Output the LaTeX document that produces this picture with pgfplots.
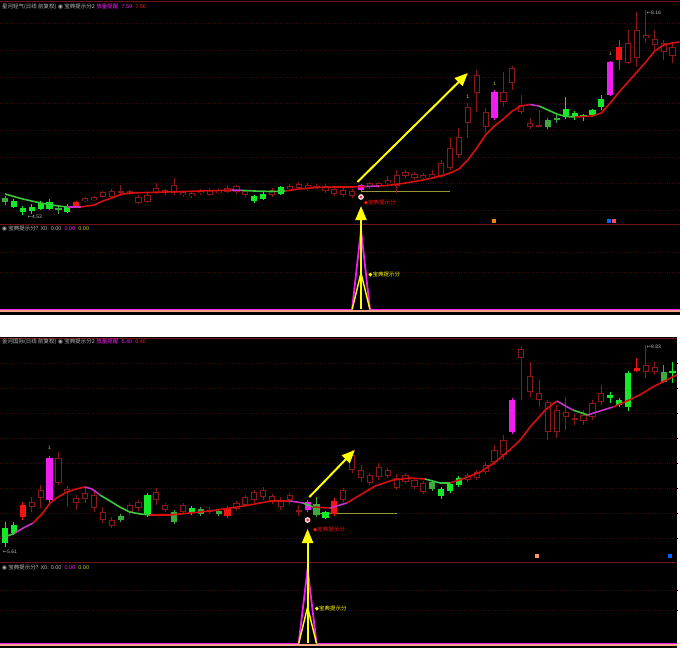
\documentclass[border=0pt]{standalone}
\usepackage{pgfplots}
\pgfplotsset{compat=1.18}
\usepackage{pgfplotstable}
\usetikzlibrary{arrows.meta}
\usepackage{fontspec}
\setmainfont{Liberation Sans}
\newfontfamily\cjk{Noto Sans CJK SC}
\newfontfamily\sym{DejaVu Sans}

\definecolor{gbright}{RGB}{20,235,40}
\definecolor{gdim}{RGB}{60,170,60}
\definecolor{cred}{RGB}{245,20,20}
\definecolor{cmag}{RGB}{240,30,240}
\definecolor{hred}{RGB}{140,24,24}
\definecolor{mared}{RGB}{215,15,15}
\definecolor{magreen}{RGB}{60,200,60}
\definecolor{mamag}{RGB}{200,50,200}
\definecolor{oliveln}{RGB}{150,150,50}
\definecolor{salmon}{RGB}{245,165,135}
\definecolor{sepred}{RGB}{110,20,20}
\definecolor{gridred}{RGB}{52,12,12}
\definecolor{ttl}{RGB}{185,185,185}
\definecolor{ylw}{RGB}{255,255,0}
\definecolor{tyg}{RGB}{200,200,60}

% ---------- top chart ----------
\pgfplotstableread{
i t b wt wb
1 201 207 199 208
2 208 212 206 215
3 207 211 204 214
4 203 209 201 210
5 202 209 199 210
7 206 212 204 213
28 196 201 195 203
29 194 199 192 200
31 187 194 186 195
63 109 117 97 119
64 113 117 111 120
65 115 117 114 121
66 110 115 109 117
67 99 107 95 110
}\TopG
\pgfplotstableread{
i t b wt wb
0 198 202 196 205
6 208 210 205 214
61 120 127 118 129
62 118 120 115 123
}\Topg
\pgfplotstableread{
i t b wt wb
8 202 207 201 208
69 47 60 40 70
}\TopR
\pgfplotstableread{
i t b wt wb
40 185 190 184 191
55 92 118 90 120
68 62 95 61 96
}\TopM
\pgfplotstableread{
i t b wt wb
13 191 192.5 185 196
35 186 187.5 184 189
60 125 126.5 110 127
}\TopD
\pgfplotstableread{
i t b wt wb
9 198 201 197 202
10 197 200 196 201
11 192 197 191 198
12 191 197 189 199
14 191 194 190 195
15 197 203 195 204
16 195 202 193 203
17 188 193 183 194
18 190 193 189 195
19 185 193 178 195
20 192 195 191 197
21 193 196 192 198
22 190 193 189 195
23 190 195 188 196
24 190 193 189 194
25 188 192 185 193
26 186 192 185 194
27 191 195 190 197
30 190 195 188 197
32 186 189 184 191
33 184 188 182 190
34 185 189 183 191
36 186 191 184 193
37 189 194 187 196
38 190 195 188 197
39 191 196 189 198
41 183 187 182 189
42 183 186 182 188
43 180 183 176 185
44 175 186 170 193
45 172 176 170 178
46 174 178 172 180
47 175 178 173 180
48 174 177 170 179
49 163 176 160 178
50 148 168 138 170
51 137 155 128 158
52 107 123 103 138
53 75 93 70 112
54 112 127 108 133
56 92 102 72 107
57 68 83 66 90
58 105 112 95 114
59 123 127 118 129
70 43 63 30 64
71 30 58 12 67
72 35 38 10 43
73 39 45 30 50
74 43 52 40 60
75 47 56 44 63
}\TopH

% ---------- bottom chart ----------
\pgfplotstableread{
i t b wt wb
0 528 543 522 547
1 525 533 522 535
16 495 515 493 517
21 508 513 506 515
36 512 518 511 519
49 489 496 487 499
50 484 491 482 493
51 478 485 476 487
68 395 398 392 403
69 400 405 398 407
70 373 407 371 411
75 371 373 362 383
}\BotG
\pgfplotstableread{
i t b wt wb
13 516 520 514 522
19 512 522 510 524
22 509 514 507 516
24 511 514 509 516
35 504 515 497 517
48 482 489 480 491
74 372 382 365 383
}\Botg
\pgfplotstableread{
i t b wt wb
2 505 517 502 520
25 508 516 506 518
37 501 514 498 516
71 368 370.5 358 372
}\BotR
\pgfplotstableread{
i t b wt wb
5 458 500 456 502
34 502 510 500 512
57 400 432 398 434
}\BotM
\pgfplotstableread{
i t b wt wb
23 510 511.5 507 514
33 510 511.5 505 516
64 418 419.5 414 425
}\BotD
\pgfplotstableread{
i t b wt wb
3 502 507 497 512
4 490 498 485 508
6 458 483 452 485
7 489 492 486 507
8 498 503 495 510
9 493 499 487 503
10 495 508 490 512
11 512 520 507 523
12 520 526 517 528
14 505 512 503 515
15 502 508 500 511
17 492 500 488 505
18 505 510 503 512
20 505 512 503 514
26 503 509 501 511
27 497 505 495 507
28 492 500 490 503
29 490 497 487 500
30 496 502 494 504
31 500 507 497 510
32 495 500 493 505
38 490 500 488 502
39 455 470 450 473
40 470 478 465 482
41 475 483 473 485
42 467 477 463 480
43 470 476 468 478
44 478 488 474 490
45 475 482 473 484
46 480 487 478 489
47 483 492 481 494
52 475 480 473 482
53 472 478 470 480
54 465 472 462 474
55 450 462 445 465
56 440 455 435 460
58 349 358 346 400
59 376 392 362 397
60 393 400 380 407
61 402 432 400 440
62 410 432 405 438
63 412 417 397 430
65 415 421 410 425
66 403 417 400 420
67 393 402 385 405
72 365 372 345 378
73 367 372 362 375
}\BotH

\pgfplotsset{
  panel/.style={scale only axis, width=680bp, xmin=-0.5618, xmax=75.8427,
    y dir=reverse, clip=false, axis line style={draw=none}, xtick=\empty,
    yticklabels={}, major tick length=0pt, ymajorgrids,
    grid style={dotted, gridred, line width=0.5bp}},
  botpanel/.style={panel, width=677bp, xmax=75.5056},
  wick/.style={only marks, mark=*, mark size=0pt, mark options={draw=none, fill=none},
    error bars/.cd, y dir=both, y explicit,
    error mark=none, error bar style={line width=1bp, draw=#1, solid}},
  body/.style 2 args={only marks, mark=*, mark size=0pt, mark options={draw=none, fill=none},
    error bars/.cd, y dir=both, y explicit,
    error mark=none, error bar style={line width=#2, draw=#1, solid}},
}
\newcommand\wicks[2]{\addplot[wick=#2] table[x=i, y expr={(\thisrow{wt}+\thisrow{wb})/2}, y error expr={(\thisrow{wb}-\thisrow{wt})/2}] {#1};}
\newcommand\bodies[2]{\addplot[body={#2}{6.2bp}] table[x=i, y expr={(\thisrow{t}+\thisrow{b})/2}, y error expr={(\thisrow{b}-\thisrow{t})/2}] {#1};}
\newcommand\inner[1]{\addplot[body={black}{4.2bp}] table[x=i, y expr={(\thisrow{t}+\thisrow{b})/2}, y error expr={(\thisrow{b}-\thisrow{t})/2-1.1}] {#1};}
\newcommand\allcandles[6]{%
  \wicks{#5}{hred}\wicks{#6}{hred}\wicks{#1}{gbright}\wicks{#2}{gdim}\wicks{#3}{cred}\wicks{#4}{cmag}%
  \bodies{#5}{hred}\inner{#5}\bodies{#6}{hred}%
  \bodies{#1}{gbright}\bodies{#2}{gdim}\bodies{#3}{cred}\bodies{#4}{cmag}}

\begin{document}
\begin{tikzpicture}
\fill[white] (0,0) rectangle (684bp,-649bp);
\fill[black] (0,0) rectangle (680bp,-315bp);
\fill[black] (0,-337bp) rectangle (677bp,-648bp);
\draw[sepred, line width=0.8bp] (0,-1.5bp) -- (680bp,-1.5bp);
\draw[sepred, line width=0.8bp] (0,-338bp) -- (677bp,-338bp);

% ================= TOP MAIN =================
\begin{axis}[panel, at={(0bp,0bp)}, anchor=north west, height=224bp, ymin=0, ymax=224,
  ytick={23,50,77,103,130,157,183,210}]
\addplot[oliveln, line width=1bp] coordinates {(40,191) (50,191)};
\allcandles{\TopG}{\Topg}{\TopR}{\TopM}{\TopH}{\TopD}
% moving average
\addplot[magreen, line width=1.6bp] coordinates {(0,194) (2,199) (4,203) (6,206) (7,207)};
\addplot[mamag, line width=1.6bp] coordinates {(7,207) (8.5,207)};
\addplot[mared, line width=1.6bp] coordinates {(8.5,207) (10,205) (11,201) (12,198) (13,194.5) (14,193) (16,192.5) (18,192) (20,191.5) (22,191) (24,190.5) (25.5,190)};
\addplot[mamag, line width=1.6bp] coordinates {(25.5,190) (26.5,190.3)};
\addplot[magreen, line width=1.6bp] coordinates {(26.5,190.3) (28,191) (30,191.5) (31.5,191)};
\addplot[mared, line width=1.6bp] coordinates {(31.5,191) (33,189) (35,187.5) (37,187) (39,187) (40.5,186.5)};
\addplot[mamag, line width=1.6bp] coordinates {(40.5,186.5) (42,186)};
\addplot[mared, line width=1.6bp] coordinates {(42,186) (43,185.5) (45,183) (47,180) (48,178) (49,176) (50,173) (51,169) (52,160) (53,148) (54,135) (55,126) (56,119) (57,111) (58,106) (59,104.5)};
\addplot[mamag, line width=1.6bp] coordinates {(59,104.5) (60,106)};
\addplot[magreen, line width=1.6bp] coordinates {(60,106) (61,110) (62,114) (63,116.5) (64,117)};
\addplot[mared, line width=1.6bp] coordinates {(64,117) (66,116) (67,113) (68,103) (69,92) (70,82) (71,72) (72,62) (73,51) (74,45) (75,43) (75.8,42)};
% signal marker
\addplot[only marks, mark=*, mark size=2.6bp, mark options={fill=white!80!red, draw=white!90!red}] coordinates {(40,197)};
\addplot[only marks, mark=*, mark size=0.9bp, cred] coordinates {(40,197)};
\draw[ylw, line width=2bp, -{Triangle[length=13bp,width=11bp]}] (axis cs:39.6,182) -- (axis cs:52,73);
\node[anchor=west, inner sep=0, font=\fontsize{5.5bp}{6bp}\selectfont, text=cred] at (axis cs:40.3,203) {{\sym ◆}{\cjk 宝典提示分}};
\node[anchor=west, inner sep=0, font=\fontsize{5.5bp}{6bp}\selectfont, text=ttl] at (axis cs:-0.35,6.5) {{\cjk 星河轻气(日线 前复权)} {\sym ◉} {\cjk 宝典提示分2} {\cjk\color{cmag}放量提醒}\ \ {\color{cmag}7.59}\ \ {\color{cred}7.56}};
\node[anchor=west, inner sep=0, font=\fontsize{5bp}{6bp}\selectfont, text=ttl] at (axis cs:2.55,217) {{\sym ←}4.53};
\node[anchor=west, inner sep=0, font=\fontsize{5bp}{6bp}\selectfont, text=ttl] at (axis cs:72.1,13) {{\sym ←}8.16};
\node[inner sep=0, font=\fontsize{5bp}{6bp}\selectfont, text=tyg] at (axis cs:52,97) {1};
\node[inner sep=0, font=\fontsize{5bp}{6bp}\selectfont, text=tyg] at (axis cs:55,84) {1};
\node[inner sep=0, font=\fontsize{5bp}{6bp}\selectfont, text=tyg] at (axis cs:68,54) {1};
\node[fill=orange!70!brown, minimum size=4bp, inner sep=0] at (axis cs:54.9,221) {};
\node[fill=blue!60!cyan, minimum size=4bp, inner sep=0] at (axis cs:67.9,221) {};
\node[fill=red!70, minimum size=4bp, inner sep=0] at (axis cs:68.4,221) {};
\end{axis}

% ================= TOP INDICATOR =================
\begin{axis}[panel, at={(0bp,-224bp)}, anchor=north west, height=90bp, ymin=224, ymax=314,
  ytick={252,272}]
\draw[sepred, line width=0.8bp] (axis cs:-0.5618,224.5) -- (axis cs:75.8427,224.5);
\addplot[cmag, line width=1.8bp] coordinates {(39,309) (40,230) (41,309)};
\addplot[cmag, line width=1bp] coordinates {(-0.5618,309) (39,309)};
\addplot[cmag, line width=1bp] coordinates {(41,309) (75.8427,309)};
\addplot[ylw, line width=1.4bp] coordinates {(39,309.5) (40,273) (41,309.5)};
\addplot[salmon, line width=2.2bp] coordinates {(-0.5618,311) (75.8427,311)};
\draw[ylw, line width=2bp, -{Triangle[length=14bp,width=11bp]}] (axis cs:40,309) -- (axis cs:40,206);
\node[anchor=west, inner sep=0, font=\fontsize{5.5bp}{6bp}\selectfont, text=ylw] at (axis cs:40.8,275) {{\sym ◆}{\cjk 宝典提示分}};
\node[anchor=west, inner sep=0, font=\fontsize{5.5bp}{6bp}\selectfont, text=ttl] at (axis cs:-0.35,229) {{\sym ◉} {\cjk 宝典提示分?} X0: 0.00\ \ {\color{cmag}0.00}\ \ {\color{tyg}0.00}};
\end{axis}

% ================= BOTTOM MAIN =================
\begin{axis}[botpanel, at={(0bp,-337bp)}, anchor=north west, height=225bp, ymin=337, ymax=562,
  ytick={363,388,413,438,463,488,513,538}]
\addplot[oliveln, line width=1bp] coordinates {(34.6,513) (44,513)};
\allcandles{\BotG}{\Botg}{\BotR}{\BotM}{\BotH}{\BotD}
\addplot[magreen, line width=1.6bp] coordinates {(-0.3,538) (1.12,533)};
\addplot[mamag, line width=1.6bp] coordinates {(1.12,533) (2.25,527) (3.15,523)};
\addplot[mared, line width=1.6bp] coordinates {(3.15,523) (4.16,514) (5.06,503) (5.96,497) (6.97,492) (7.98,489) (8.99,487)};
\addplot[mamag, line width=1.6bp] coordinates {(8.99,487) (9.78,489) (10.67,495)};
\addplot[magreen, line width=1.6bp] coordinates {(10.67,495) (11.8,501) (12.9,507) (14.0,512) (15.2,514) (16.3,515)};
\addplot[mared, line width=1.6bp] coordinates {(16.3,515) (18.5,515) (20.8,513) (23.0,511) (25.3,508) (27.5,505) (29.8,501) (32.0,501)};
\addplot[mamag, line width=1.6bp] coordinates {(32.0,501) (33.5,503)};
\addplot[magreen, line width=1.6bp] coordinates {(33.5,503) (34.6,507)};
\addplot[mared, line width=1.6bp] coordinates {(34.6,507) (36.5,508)};
\addplot[mamag, line width=1.6bp] coordinates {(36.5,508) (38.4,503)};
\addplot[mared, line width=1.6bp] coordinates {(38.4,503) (39.9,495) (41.6,486) (43.6,480) (45.5,478) (47.2,479)};
\addplot[magreen, line width=1.6bp] coordinates {(47.2,479) (48.9,483) (50.0,483)};
\addplot[mared, line width=1.6bp] coordinates {(50.0,483) (51.7,478) (53.4,472) (55.1,462) (56.7,450) (57.9,440) (59.0,427) (60.7,410) (62.0,401)};
\addplot[mamag, line width=1.6bp] coordinates {(62.0,401) (63.8,410)};
\addplot[magreen, line width=1.6bp] coordinates {(63.8,410) (65.5,415)};
\addplot[mamag, line width=1.6bp] coordinates {(65.5,415) (66.5,412) (68.3,407)};
\addplot[mared, line width=1.6bp] coordinates {(68.3,407) (69.4,403) (71.3,395) (73.0,386) (75.0,377) (75.5,375)};
\addplot[only marks, mark=*, mark size=2.6bp, mark options={fill=white!80!red, draw=white!90!red}] coordinates {(34,520)};
\addplot[only marks, mark=*, mark size=0.9bp, cred] coordinates {(34,520)};
\draw[ylw, line width=2bp, -{Triangle[length=13bp,width=11bp]}] (axis cs:34.2,497) -- (axis cs:39.3,450);
\node[anchor=west, inner sep=0, font=\fontsize{5.5bp}{6bp}\selectfont, text=cred] at (axis cs:34.6,529) {{\sym ◆}{\cjk 宝典提示分}};
\node[anchor=west, inner sep=0, font=\fontsize{5.5bp}{6bp}\selectfont, text=ttl] at (axis cs:-0.35,342) {{\cjk 金河国际(日线 前复权)} {\sym ◉} {\cjk 宝典提示分2} {\cjk\color{cmag}放量提醒}\ \ {\color{cmag}6.40}\ \ {\color{cred}6.40}};
\node[anchor=west, inner sep=0, font=\fontsize{5bp}{6bp}\selectfont, text=ttl] at (axis cs:-0.25,552) {{\sym ←}5.61};
\node[anchor=west, inner sep=0, font=\fontsize{5bp}{6bp}\selectfont, text=ttl] at (axis cs:72.1,347) {{\sym ←}8.83};
\node[inner sep=0, font=\fontsize{5bp}{6bp}\selectfont, text=tyg] at (axis cs:5,448) {1};
\node[fill=red!40!orange!60, minimum size=4bp, inner sep=0] at (axis cs:59.8,556) {};
\node[fill=blue!60!cyan, minimum size=4bp, inner sep=0] at (axis cs:74.7,556) {};
\end{axis}

% ================= BOTTOM INDICATOR =================
\begin{axis}[botpanel, at={(0bp,-562bp)}, anchor=north west, height=86bp, ymin=562, ymax=648,
  ytick={590,610}]
\draw[sepred, line width=0.8bp] (axis cs:-0.5618,562.5) -- (axis cs:75.5056,562.5);
\addplot[cmag, line width=1.8bp] coordinates {(33,643) (34,569) (35,643)};
\addplot[cmag, line width=1bp] coordinates {(-0.5618,643) (33,643)};
\addplot[cmag, line width=1bp] coordinates {(35,643) (75.5056,643)};
\addplot[ylw, line width=1.4bp] coordinates {(33,643.5) (34,607) (35,643.5)};
\addplot[salmon, line width=2.2bp] coordinates {(-0.5618,645) (75.5056,645)};
\draw[ylw, line width=2bp, -{Triangle[length=14bp,width=11bp]}] (axis cs:34,643) -- (axis cs:34,529);
\node[anchor=west, inner sep=0, font=\fontsize{5.5bp}{6bp}\selectfont, text=ylw] at (axis cs:34.8,608) {{\sym ◆}{\cjk 宝典提示分}};
\node[anchor=west, inner sep=0, font=\fontsize{5.5bp}{6bp}\selectfont, text=ttl] at (axis cs:-0.35,568) {{\sym ◉} {\cjk 宝典提示分?} X0: 0.00\ \ {\color{cmag}0.00}\ \ {\color{tyg}0.00}};
\end{axis}
\pgfresetboundingbox
\useasboundingbox (0,0) rectangle (684bp,-649bp);
\end{tikzpicture}
\end{document}
